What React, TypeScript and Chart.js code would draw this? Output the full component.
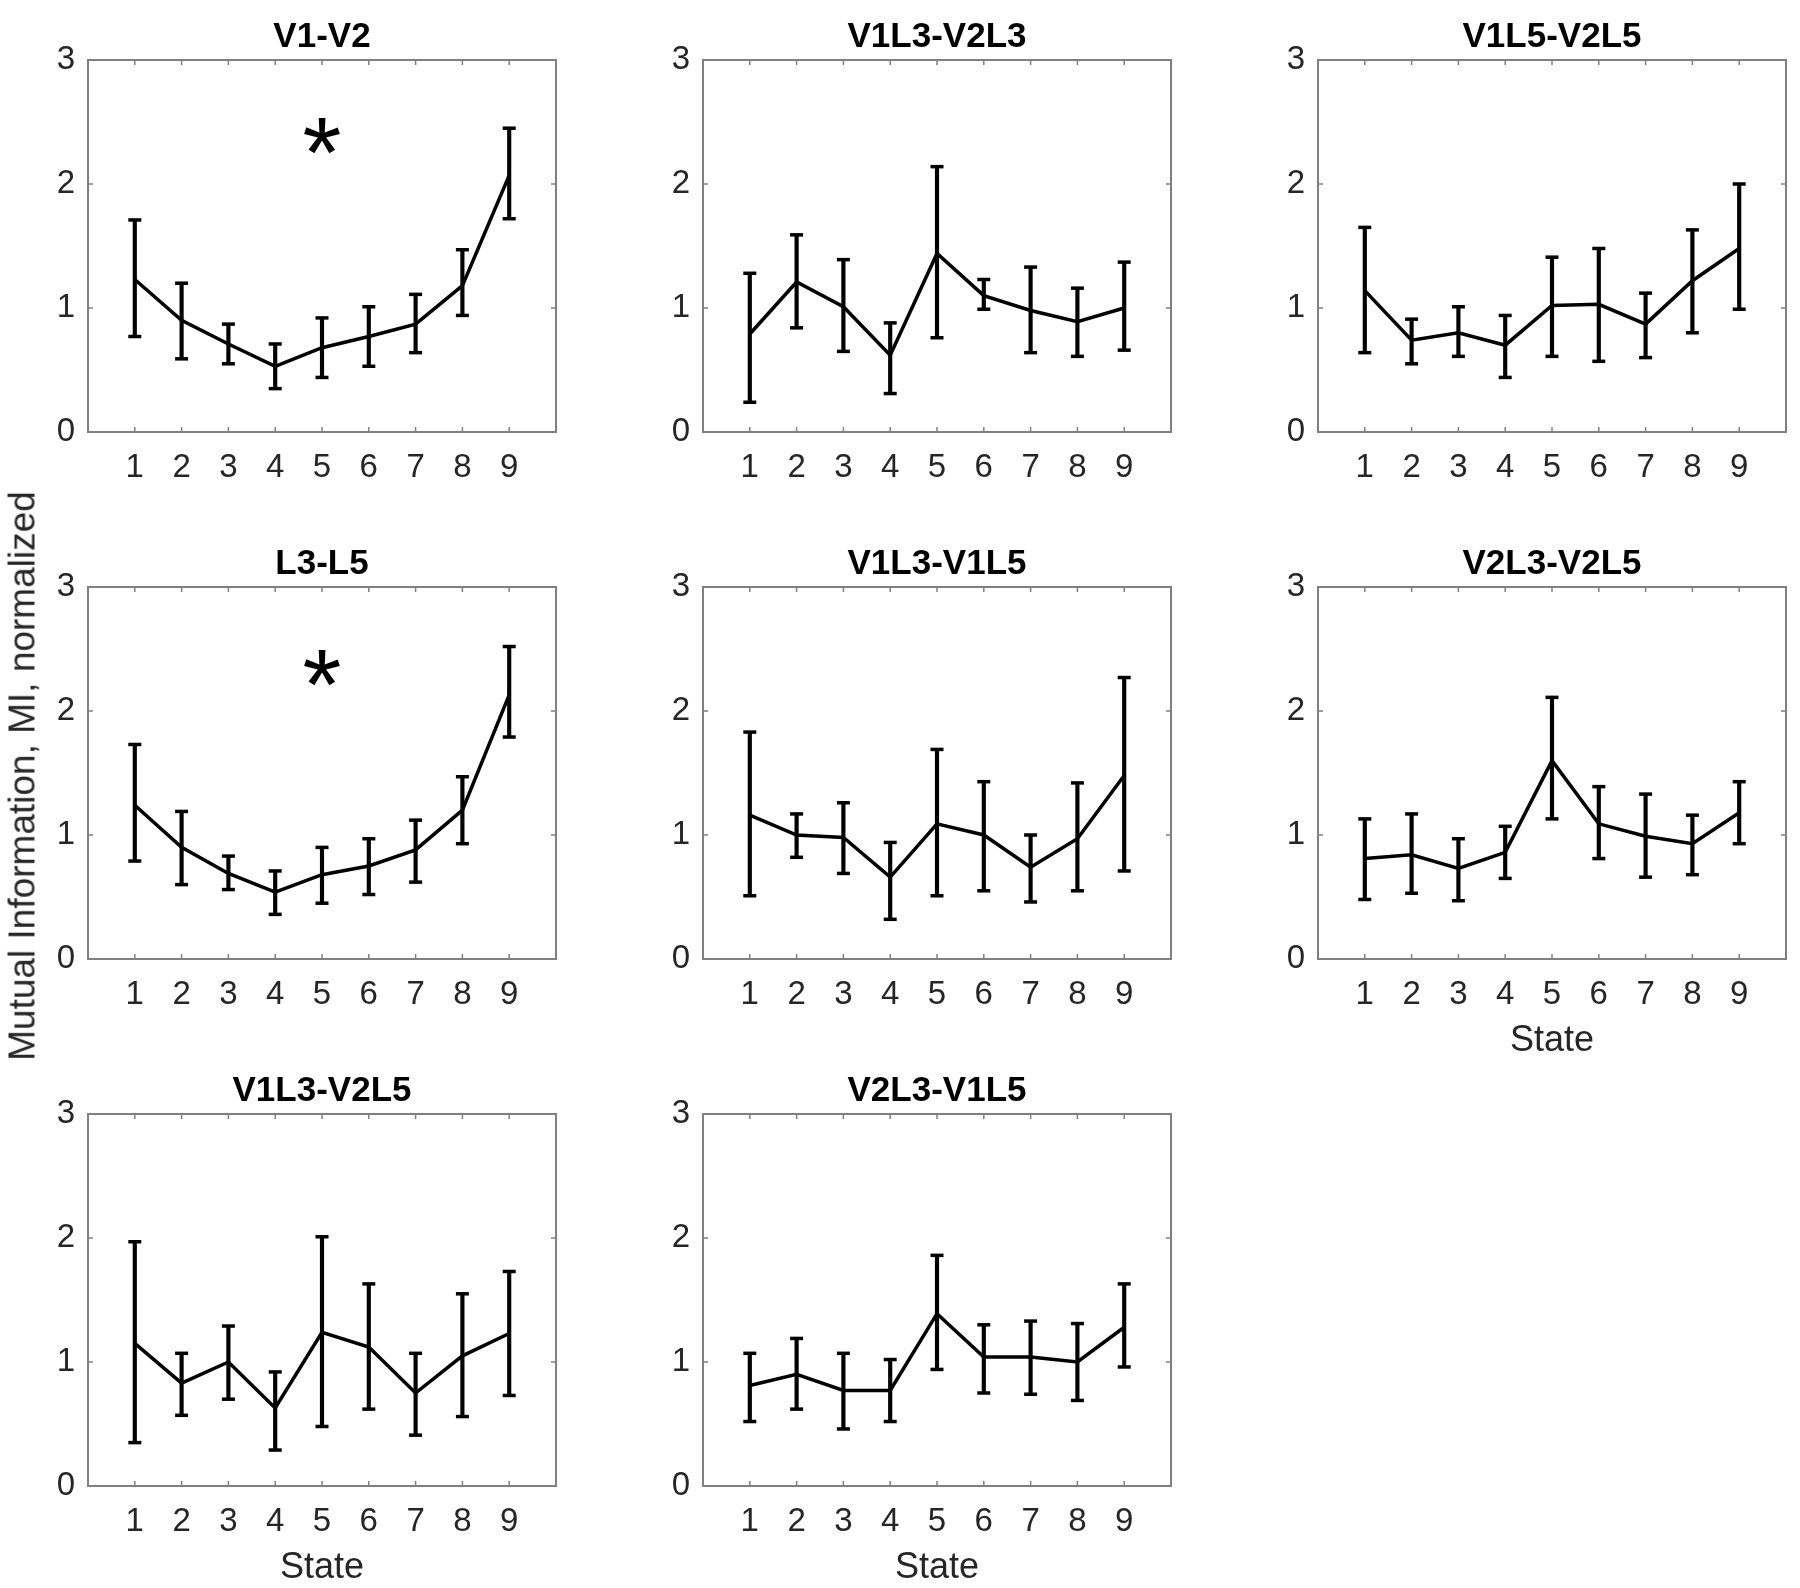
import React, { useEffect, useRef } from "react";
import { Chart, registerables } from "chart.js";

Chart.register(...registerables);

// ---------------- data ----------------
const STATES = [1, 2, 3, 4, 5, 6, 7, 8, 9];
const Y_TICKS = [0, 1, 2, 3];
const X_LABEL = "State";
const Y_LABEL = "Mutual Information, MI, normalized";

const V1_V2_MEAN = [1.23, 0.9, 0.71, 0.53, 0.68, 0.77, 0.87, 1.18, 2.07];
const V1_V2_HI = [1.71, 1.2, 0.87, 0.71, 0.92, 1.01, 1.11, 1.47, 2.45];
const V1_V2_LO = [0.77, 0.59, 0.55, 0.35, 0.44, 0.53, 0.64, 0.94, 1.72];
const V1_V2_STAR = [5, 2.39];

const V1L3_V2L3_MEAN = [0.79, 1.21, 1.01, 0.62, 1.44, 1.1, 0.98, 0.89, 1.0];
const V1L3_V2L3_HI = [1.28, 1.59, 1.39, 0.88, 2.14, 1.23, 1.33, 1.16, 1.37];
const V1L3_V2L3_LO = [0.24, 0.84, 0.65, 0.31, 0.76, 0.99, 0.64, 0.61, 0.66];

const V1L5_V2L5_MEAN = [1.14, 0.74, 0.8, 0.7, 1.02, 1.03, 0.87, 1.22, 1.48];
const V1L5_V2L5_HI = [1.65, 0.91, 1.01, 0.94, 1.41, 1.48, 1.12, 1.63, 2.0];
const V1L5_V2L5_LO = [0.64, 0.55, 0.61, 0.44, 0.61, 0.57, 0.6, 0.8, 0.99];

const L3_L5_MEAN = [1.24, 0.9, 0.69, 0.54, 0.68, 0.75, 0.88, 1.2, 2.13];
const L3_L5_HI = [1.73, 1.19, 0.83, 0.71, 0.9, 0.97, 1.12, 1.47, 2.52];
const L3_L5_LO = [0.79, 0.6, 0.56, 0.36, 0.45, 0.52, 0.62, 0.93, 1.79];
const L3_L5_STAR = [5, 2.35];

const V1L3_V1L5_MEAN = [1.16, 1.0, 0.98, 0.66, 1.09, 1.0, 0.74, 0.97, 1.48];
const V1L3_V1L5_HI = [1.83, 1.17, 1.26, 0.94, 1.69, 1.43, 1.0, 1.42, 2.27];
const V1L3_V1L5_LO = [0.51, 0.82, 0.69, 0.32, 0.51, 0.55, 0.46, 0.55, 0.71];

const V2L3_V2L5_MEAN = [0.81, 0.84, 0.73, 0.86, 1.6, 1.09, 0.99, 0.93, 1.18];
const V2L3_V2L5_HI = [1.13, 1.17, 0.97, 1.07, 2.11, 1.39, 1.33, 1.16, 1.43];
const V2L3_V2L5_LO = [0.48, 0.53, 0.47, 0.65, 1.13, 0.81, 0.66, 0.68, 0.93];

const V1L3_V2L5_MEAN = [1.15, 0.83, 1.0, 0.63, 1.24, 1.12, 0.75, 1.05, 1.23];
const V1L3_V2L5_HI = [1.97, 1.07, 1.29, 0.92, 2.01, 1.63, 1.07, 1.55, 1.73];
const V1L3_V2L5_LO = [0.35, 0.57, 0.7, 0.29, 0.48, 0.62, 0.41, 0.56, 0.73];

const V2L3_V1L5_MEAN = [0.81, 0.9, 0.77, 0.77, 1.39, 1.04, 1.04, 1.0, 1.28];
const V2L3_V1L5_HI = [1.07, 1.19, 1.07, 1.02, 1.86, 1.3, 1.33, 1.31, 1.63];
const V2L3_V1L5_LO = [0.52, 0.62, 0.46, 0.52, 0.94, 0.75, 0.74, 0.69, 0.96];

type Panel = {
  title: string;
  mean: number[];
  lo: number[];
  hi: number[];
  row: number;
  col: number;
  star: number[] | null;
  xLabel: boolean;
};

const PANELS: Panel[] = [
  { title: "V1-V2", mean: V1_V2_MEAN, lo: V1_V2_LO, hi: V1_V2_HI, row: 0, col: 0, star: V1_V2_STAR, xLabel: false },
  { title: "V1L3-V2L3", mean: V1L3_V2L3_MEAN, lo: V1L3_V2L3_LO, hi: V1L3_V2L3_HI, row: 0, col: 1, star: null, xLabel: false },
  { title: "V1L5-V2L5", mean: V1L5_V2L5_MEAN, lo: V1L5_V2L5_LO, hi: V1L5_V2L5_HI, row: 0, col: 2, star: null, xLabel: false },
  { title: "L3-L5", mean: L3_L5_MEAN, lo: L3_L5_LO, hi: L3_L5_HI, row: 1, col: 0, star: L3_L5_STAR, xLabel: false },
  { title: "V1L3-V1L5", mean: V1L3_V1L5_MEAN, lo: V1L3_V1L5_LO, hi: V1L3_V1L5_HI, row: 1, col: 1, star: null, xLabel: false },
  { title: "V2L3-V2L5", mean: V2L3_V2L5_MEAN, lo: V2L3_V2L5_LO, hi: V2L3_V2L5_HI, row: 1, col: 2, star: null, xLabel: true },
  { title: "V1L3-V2L5", mean: V1L3_V2L5_MEAN, lo: V1L3_V2L5_LO, hi: V1L3_V2L5_HI, row: 2, col: 0, star: null, xLabel: true },
  { title: "V2L3-V1L5", mean: V2L3_V1L5_MEAN, lo: V2L3_V1L5_LO, hi: V2L3_V1L5_HI, row: 2, col: 1, star: null, xLabel: true },
];

// ---------------- layout / style ----------------
const COL_LEFT = [88, 703, 1318];
const ROW_TOP = [60, 587, 1114];
const PLOT_W = 468;
const PLOT_H = 372;
const PAD_L = 88;
const PAD_R = 20;
const PAD_T = 60;
const PAD_B = 100;

const FONT = '"Liberation Sans", Arial, Helvetica, sans-serif';
const INK = "#000000";
const TICK_COLOR = "#262626";
const BOX_COLOR = "#808080";
const TICK_LEN = 5;
const STAR_INK = 36;
const LINE_W = 3.5;

const framePlugin = {
  id: "matlabFrame",
  beforeDatasetsDraw(chart: any) {
    const { ctx, chartArea, scales } = chart;
    const { left, right, top, bottom } = chartArea;
    ctx.save();
    ctx.strokeStyle = BOX_COLOR;
    ctx.lineWidth = 2;
    ctx.strokeRect(left, top, right - left, bottom - top);
    ctx.lineWidth = 1.5;
    ctx.beginPath();
    STATES.forEach((v) => {
      const px = scales.x.getPixelForValue(v);
      ctx.moveTo(px, bottom);
      ctx.lineTo(px, bottom - TICK_LEN);
      ctx.moveTo(px, top);
      ctx.lineTo(px, top + TICK_LEN);
    });
    Y_TICKS.forEach((v) => {
      const py = scales.y.getPixelForValue(v);
      ctx.moveTo(left, py);
      ctx.lineTo(left + TICK_LEN, py);
      ctx.moveTo(right, py);
      ctx.lineTo(right - TICK_LEN, py);
    });
    ctx.stroke();
    ctx.restore();
  },
};

const starPlugin = {
  id: "starMark",
  afterDatasetsDraw(chart: any, _args: any, opts: any) {
    if (!opts || opts.x == null) return;
    const { ctx, scales } = chart;
    const px = scales.x.getPixelForValue(opts.x);
    const py = scales.y.getPixelForValue(opts.y);
    ctx.save();
    ctx.fillStyle = INK;
    ctx.textAlign = "center";
    ctx.textBaseline = "alphabetic";
    ctx.font = `100px ${FONT}`;
    const m = ctx.measureText("*");
    const h = m.actualBoundingBoxAscent + m.actualBoundingBoxDescent;
    const size = (100 * STAR_INK) / (h || 30);
    ctx.font = `${size}px ${FONT}`;
    const m2 = ctx.measureText("*");
    const baseline = py + (m2.actualBoundingBoxAscent - m2.actualBoundingBoxDescent) / 2;
    ctx.fillText("*", px, baseline);
    ctx.restore();
  },
};

function PanelChart({ panel }: { panel: Panel }) {
  const ref = useRef<HTMLCanvasElement | null>(null);
  const width = PAD_L + PLOT_W + PAD_R;
  const height = PAD_T + PLOT_H + PAD_B;

  useEffect(() => {
    if (!ref.current) return;
    const { mean, lo, hi } = panel;
    const chart = new Chart(ref.current, {
      type: "scatter",
      data: {
        datasets: [
          {
            type: "bar",
            data: STATES.map((s, i) => ({ x: s, y: [lo[i], hi[i]] })),
            backgroundColor: INK,
            borderWidth: 0,
            barThickness: LINE_W,
            order: 2,
          } as any,
          {
            type: "scatter",
            data: STATES.flatMap((s, i) => [
              { x: s, y: lo[i] },
              { x: s, y: hi[i] },
            ]),
            pointStyle: "line",
            pointRadius: 6.5,
            pointHoverRadius: 6.5,
            borderColor: INK,
            backgroundColor: INK,
            borderWidth: LINE_W,
            order: 1,
          } as any,
          {
            type: "line",
            data: STATES.map((s, i) => ({ x: s, y: mean[i] })),
            borderColor: INK,
            borderWidth: LINE_W,
            pointRadius: 0,
            fill: false,
            tension: 0,
            order: 0,
          } as any,
        ],
      },
      options: {
        responsive: false,
        maintainAspectRatio: false,
        animation: false,
        events: [],
        layout: { padding: { left: 0, right: PAD_R, top: 0, bottom: 0 } },
        plugins: {
          legend: { display: false },
          tooltip: { enabled: false },
          title: {
            display: true,
            text: panel.title,
            color: INK,
            fullSize: false,
            font: { family: FONT, size: 35, weight: "bold", lineHeight: 1.2 },
            padding: { top: 16, bottom: 2 },
          },
          starMark: panel.star ? { x: panel.star[0], y: panel.star[1] } : false,
        } as any,
        scales: {
          x: {
            type: "linear",
            min: 0,
            max: 10,
            offset: false,
            afterBuildTicks: (s: any) => {
              s.ticks = STATES.map((v) => ({ value: v }));
            },
            afterFit: (s: any) => {
              s.height = PAD_B;
            },
            grid: { display: false, drawTicks: false, tickLength: 0 },
            border: { display: false },
            ticks: {
              color: TICK_COLOR,
              font: { family: FONT, size: 33, lineHeight: 1.2 },
              padding: 16,
              maxRotation: 0,
              autoSkip: false,
              callback: (v: any) => String(v),
            },
            title: {
              display: panel.xLabel,
              text: X_LABEL,
              color: TICK_COLOR,
              font: { family: FONT, size: 36, lineHeight: 1.0 },
              padding: { top: 0, bottom: 0 },
            },
          },
          y: {
            type: "linear",
            min: 0,
            max: 3,
            afterBuildTicks: (s: any) => {
              s.ticks = Y_TICKS.map((v) => ({ value: v }));
            },
            afterFit: (s: any) => {
              s.width = PAD_L;
            },
            grid: { display: false, drawTicks: false, tickLength: 0 },
            border: { display: false },
            ticks: {
              color: TICK_COLOR,
              font: { family: FONT, size: 33, lineHeight: 1.2 },
              padding: 13,
              callback: (v: any) => String(v),
            },
          },
        },
      } as any,
      plugins: [framePlugin, starPlugin],
    });
    return () => chart.destroy();
  }, [panel]);

  return (
    <canvas
      ref={ref}
      width={width}
      height={height}
      style={{
        position: "absolute",
        left: COL_LEFT[panel.col] - PAD_L,
        top: ROW_TOP[panel.row] - PAD_T,
        width,
        height,
      }}
    />
  );
}

export default function App() {
  return (
    <div
      style={{
        position: "absolute",
        left: 0,
        top: 0,
        width: 1800,
        height: 1588,
        background: "#ffffff",
        overflow: "hidden",
      }}
    >
      {PANELS.map((p) => (
        <PanelChart key={p.title} panel={p} />
      ))}
      <div
        style={{
          position: "absolute",
          left: 22,
          top: 776,
          transform: "translate(-50%, -50%) rotate(-90deg)",
          whiteSpace: "nowrap",
          fontFamily: FONT,
          fontSize: 37,
          lineHeight: 1,
          color: TICK_COLOR,
        }}
      >
        {Y_LABEL}
      </div>
    </div>
  );
}
